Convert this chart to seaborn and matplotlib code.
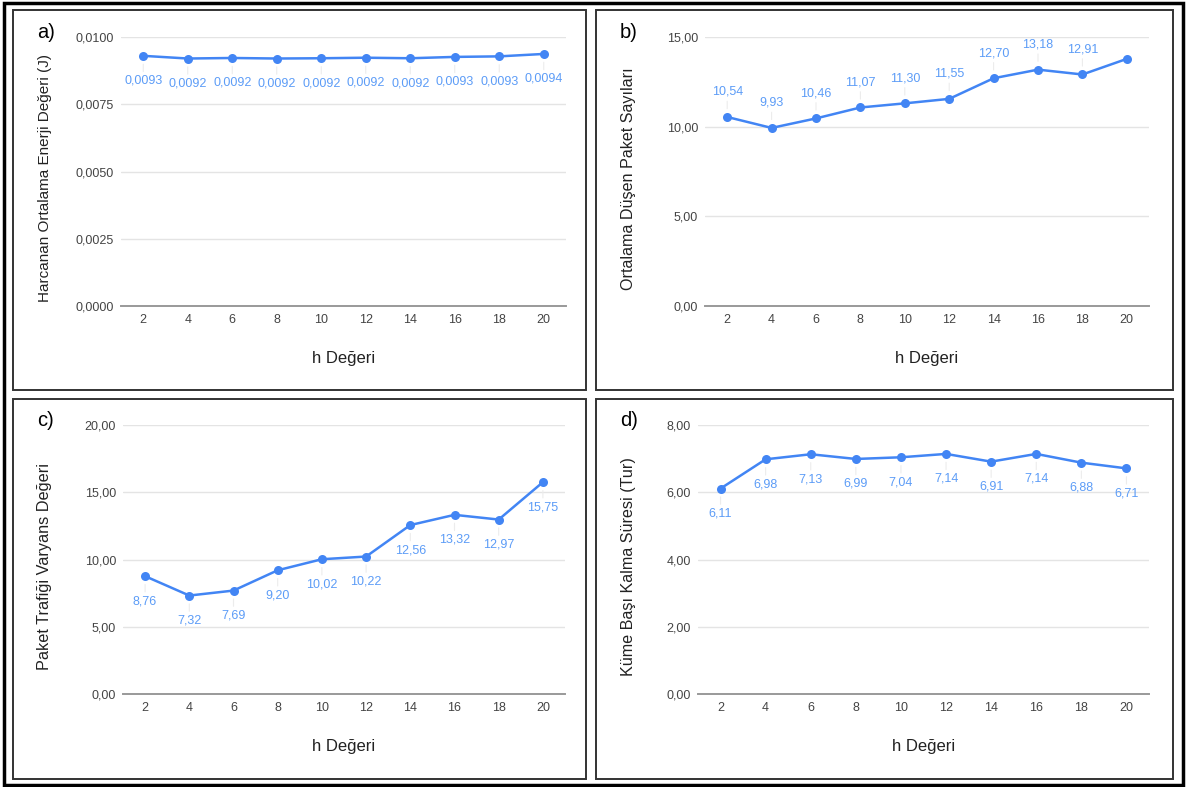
import matplotlib
matplotlib.use("Agg")
import matplotlib.pyplot as plt
from matplotlib.patches import Rectangle
import seaborn as sns
import pandas as pd

# ---- data ----
h_values = [2, 4, 6, 8, 10, 12, 14, 16, 18, 20]
energy = [0.00930, 0.00920, 0.00922, 0.00920, 0.00921, 0.00923, 0.00921, 0.00926, 0.00928, 0.00937]
dropped = [10.54, 9.93, 10.46, 11.07, 11.30, 11.55, 12.70, 13.18, 12.91, 13.78]
variance = [8.76, 7.32, 7.69, 9.20, 10.02, 10.22, 12.56, 13.32, 12.97, 15.75]
ch_time = [6.11, 6.98, 7.13, 6.99, 7.04, 7.14, 6.91, 7.14, 6.88, 6.71]

ylabels = ["Harcanan Ortalama Enerji Değeri (J)", "Ortalama Düşen Paket Sayıları",
           "Paket Trafiği Varyans Değeri", "Küme Başı Kalma Süresi (Tur)"]
panel_letters = ["a)", "b)", "c)", "d)"]
yticks_a = [0.0, 0.0025, 0.0050, 0.0075, 0.0100]
yticks_b = [0, 5, 10, 15]
yticks_c = [0, 5, 10, 15, 20]
yticks_d = [0, 2, 4, 6, 8]

sns.set_theme(style="white")
plt.rcParams["font.family"] = ["Liberation Sans", "DejaVu Sans"]

W, H = 1187, 787
fig = plt.figure(figsize=(W / 100, H / 100), dpi=100)

def fx(px):
    return px / W

def fy(py):
    return 1 - py / H

LINE = "#4285F4"
LABEL = "#5c9cf7"
XLAB = "h Değeri"

# panel boxes (px): left, top, right, bottom
boxes = [(13, 10, 586, 390), (596, 10, 1173, 390), (13, 399, 586, 779), (596, 399, 1173, 779)]
# axes (px): left, top, right, bottom
axes_px = [(121, 37, 566, 306), (705, 37, 1149, 306), (123, 425, 565, 694), (698, 425, 1149, 694)]
ylabel_sizes = [11, 11.6, 11.7, 11.6]

series = [energy, dropped, variance, ch_time]
yticks = [yticks_a, yticks_b, yticks_c, yticks_d]
fmt = ["{:.4f}", "{:.2f}", "{:.2f}", "{:.2f}"]
label_dir = [-1, 1, -1, -1]
hide_last = [False, True, False, False]

# outer border
fig.patches.append(Rectangle((fx(4), fy(785)), fx(1183) - fx(4), fy(3) - fy(785),
                             transform=fig.transFigure, fill=False, edgecolor="black",
                             linewidth=2.5, zorder=0))
for (l, t, r, b) in boxes:
    fig.patches.append(Rectangle((fx(l), fy(b)), fx(r) - fx(l), fy(t) - fy(b),
                                 transform=fig.transFigure, fill=False, edgecolor="#333333",
                                 linewidth=1.4, zorder=0))

for i in range(4):
    l, t, r, b = axes_px[i]
    ax = fig.add_axes([fx(l), fy(b), fx(r) - fx(l), fy(t) - fy(b)])
    df = pd.DataFrame({"h": h_values, "v": series[i]})
    sns.lineplot(data=df, x="h", y="v", ax=ax, color=LINE, linewidth=1.8,
                 marker="o", markersize=6.5, markeredgewidth=0, clip_on=False, zorder=4)
    ax.set_xlim(1, 21)
    ax.set_ylim(yticks[i][0], yticks[i][-1])
    ax.set_xticks(h_values)
    ax.set_yticks(yticks[i])
    ax.set_yticklabels([fmt[i].format(v).replace(".", ",") for v in yticks[i]])
    ax.grid(axis="y", color="#e4e4e4", linewidth=1.0)
    ax.grid(axis="x", visible=False)
    for s in ["top", "right", "left"]:
        ax.spines[s].set_visible(False)
    ax.spines["bottom"].set_color("#999999")
    ax.spines["bottom"].set_linewidth(1.4)
    ax.tick_params(axis="both", length=0, labelsize=9, colors="#444444")
    ax.tick_params(axis="y", pad=5)
    ax.tick_params(axis="x", pad=6)
    ax.set_xlabel("")
    ax.set_ylabel("")
    for j, (x, y) in enumerate(zip(h_values, series[i])):
        if hide_last[i] and j == len(h_values) - 1:
            continue
        d = label_dir[i]
        ax.annotate(fmt[i].format(y).replace(".", ","), xy=(x, y), xytext=(0, d * 18),
                    textcoords="offset points", ha="center", va="center",
                    fontsize=9, color=LABEL,
                    arrowprops=dict(arrowstyle="-", color="#ececec", lw=0.8,
                                    shrinkA=0, shrinkB=6), zorder=3)

    bl, bt, br, bb = boxes[i]
    # y label
    fig.text(fx(bl + 32), fy((t + b) / 2 + 7), ylabels[i], rotation=90, ha="center",
             va="center", fontsize=ylabel_sizes[i], color="#222222")
    # x label
    fig.text(fx((l + r) / 2 + 0), fy(b + 53), XLAB, ha="center", va="center",
             fontsize=12, color="#222222")
    # panel letter
    fig.text(fx(bl + 24), fy(t - 5), panel_letters[i], ha="left", va="center",
             fontsize=14.5, color="black")

fig.savefig("out.png", dpi=100)
